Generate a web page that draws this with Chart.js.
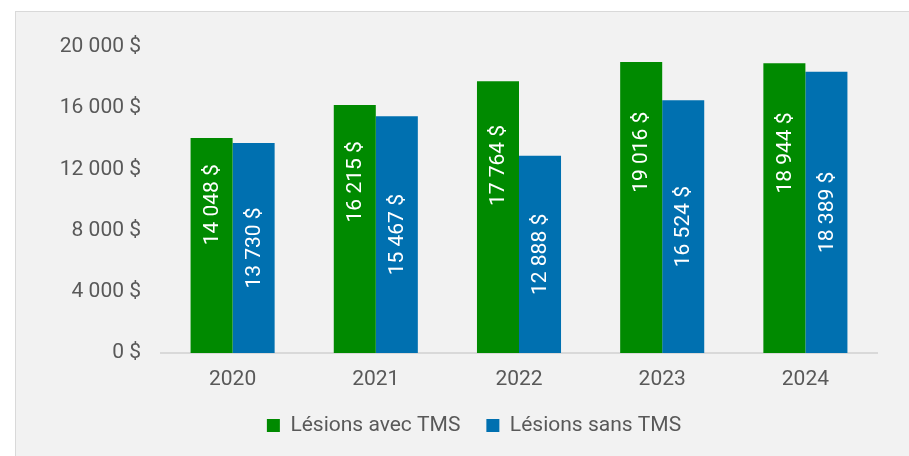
<!DOCTYPE html>
<html lang="fr">
<head>
<meta charset="utf-8">
<script src="https://cdn.jsdelivr.net/npm/chart.js@4/dist/chart.umd.min.js"></script>
<style>
  html, body { margin: 0; padding: 0; background: #fff; overflow: hidden; width: 909px; height: 456px; }
  #frame {
    position: absolute; left: 15px; top: 11px;
    width: 916px; height: 445px;
    background: #f2f2f2;
    border-left: 1px solid #d9d9d9;
    border-top: 1px solid #d9d9d9;
  }
  canvas { display: block; }
</style>
</head>
<body>
<div id="frame"><canvas id="chart" width="916" height="444"></canvas></div>
<script>
// Data
const years = ['2020', '2021', '2022', '2023', '2024'];
const avecTMS = [14048, 16215, 17764, 19016, 18944];
const sansTMS = [13730, 15467, 12888, 16524, 18389];
const seriesNames = ['Lésions avec TMS', 'Lésions sans TMS'];

const GREEN = '#008a00';
const BLUE = '#0070b0';
const TEXT = '#595959';

// "14048" -> "14 048 $"
function money(v) {
    return String(v).replace(/\B(?=(\d{3})+(?!\d))/g, ' ') + ' $';
}

// Rotated value labels inside the bars
const barLabels = {
    id: 'barLabels',
    afterDatasetsDraw(chart) {
        const ctx = chart.ctx;
        chart.data.datasets.forEach((ds, i) => {
            const meta = chart.getDatasetMeta(i);
            const frac = ds.labelFrac || 0.5;
            meta.data.forEach((bar, j) => {
                const cy = bar.base - frac * (bar.base - bar.y);
                ctx.save();
                ctx.translate(bar.x, cy);
                ctx.rotate(-Math.PI / 2);
                ctx.fillStyle = '#ffffff';
                ctx.font = "21px Roboto";
                ctx.textAlign = 'center';
                ctx.textBaseline = 'middle';
                ctx.fillText(money(ds.data[j]), 0, 1);
                ctx.restore();
            });
        });
    }
};

Chart.defaults.font.family = 'Roboto';
Chart.defaults.color = TEXT;

new Chart(document.getElementById('chart'), {
    type: 'bar',
    data: {
        labels: years,
        datasets: [
            {
                label: seriesNames[0],
                data: avecTMS,
                backgroundColor: GREEN,
                labelFrac: 0.69
            },
            {
                label: seriesNames[1],
                data: sansTMS,
                backgroundColor: BLUE,
                labelFrac: 0.5
            }
        ]
    },
    options: {
        responsive: false,
        animation: false,
        devicePixelRatio: 1,
        categoryPercentage: 0.587,
        barPercentage: 1,
        layout: {
            padding: { top: 35, right: 0, left: 0, bottom: 10 }
        },
        scales: {
            x: {
                grid: { display: false, drawTicks: false },
                border: { display: true, color: '#d9d9d9', width: 2 },
                ticks: { font: { size: 21 }, color: TEXT, padding: 14 },
                afterFit: (s) => { s.height = 36; }
            },
            y: {
                min: 0,
                max: 20000,
                grid: { display: false, drawTicks: false },
                border: { display: false },
                ticks: {
                    stepSize: 4000,
                    font: { size: 21 },
                    color: TEXT,
                    padding: 20,
                    callback: (v) => money(v)
                },
                afterFit: (s) => { s.width = 145; }
            },
            // empty right gutter so the legend centres on the whole frame
            yRight: {
                position: 'right',
                grid: { display: false, drawTicks: false },
                border: { display: false },
                ticks: { display: false },
                afterFit: (s) => { s.width = 55; }
            }
        },
        plugins: {
            legend: {
                position: 'bottom',
                labels: {
                    boxWidth: 13,
                    boxHeight: 13,
                    padding: 26,
                    color: TEXT,
                    font: { size: 21 }
                }
            },
            tooltip: { enabled: false }
        }
    },
    plugins: [barLabels]
});
</script>
</body>
</html>
